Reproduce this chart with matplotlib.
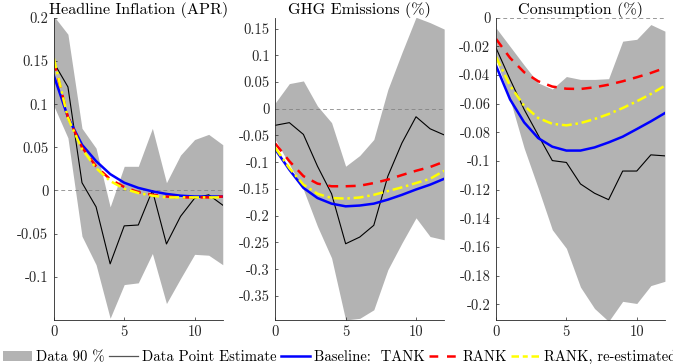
import matplotlib
matplotlib.use("Agg")
import matplotlib.pyplot as plt
from matplotlib.patches import Patch
from matplotlib.lines import Line2D
import numpy as np

plt.rcParams['font.family'] = ['cmr10', 'DejaVu Serif']
plt.rcParams['mathtext.fontset'] = 'cm'
plt.rcParams['axes.unicode_minus'] = False

horizon = list(range(13))

titles = ["Headline Inflation (APR)", "GHG Emissions (%)", "Consumption (%)"]

# Panel 1: Headline inflation
infl_upper = [0.202, 0.181, 0.072, 0.049, -0.019, 0.028, 0.028, 0.072, 0.009, 0.041, 0.059, 0.065, 0.053]
infl_lower = [0.098, 0.061, -0.053, -0.086, -0.148, -0.109, -0.107, -0.073, -0.131, -0.102, -0.074, -0.075, -0.086]
infl_point = [0.148, 0.120, 0.009, -0.019, -0.085, -0.041, -0.040, 0.000, -0.062, -0.030, -0.009, -0.005, -0.017]
infl_tank = [0.133, 0.085, 0.053, 0.034, 0.019, 0.009, 0.003, -0.001, -0.004, -0.006, -0.007, -0.007, -0.007]
infl_rank = [0.150, 0.085, 0.050, 0.028, 0.013, 0.004, -0.002, -0.005, -0.007, -0.008, -0.008, -0.008, -0.007]
infl_rank_re = [0.153, 0.084, 0.048, 0.026, 0.011, 0.002, -0.003, -0.006, -0.008, -0.008, -0.008, -0.008, -0.008]

# Panel 2: GHG emissions
ghg_upper = [0.011, 0.047, 0.052, 0.005, -0.026, -0.1075, -0.0875, -0.0575, 0.036, 0.105, 0.171, 0.161, 0.149]
ghg_lower = [-0.0575, -0.104, -0.151, -0.220, -0.279, -0.395, -0.392, -0.376, -0.301, -0.251, -0.204, -0.239, -0.245]
ghg_point = [-0.031, -0.026, -0.048, -0.1075, -0.159, -0.2525, -0.240, -0.218, -0.126, -0.064, -0.015, -0.0375, -0.049]
ghg_tank = [-0.076, -0.114, -0.148, -0.167, -0.1775, -0.1825, -0.181, -0.1775, -0.170, -0.161, -0.151, -0.142, -0.131]
ghg_rank = [-0.065, -0.098, -0.126, -0.140, -0.145, -0.145, -0.144, -0.139, -0.1325, -0.124, -0.116, -0.109, -0.099]
ghg_rank_re = [-0.073, -0.111, -0.142, -0.159, -0.167, -0.168, -0.166, -0.161, -0.154, -0.147, -0.139, -0.131, -0.116]

# Panel 3: Consumption
cons_upper = [-0.007, -0.020, -0.033, -0.0455, -0.0497, -0.041, -0.043, -0.043, -0.0425, -0.0163, -0.015, -0.0047, -0.0093]
cons_lower = [-0.029, -0.057, -0.091, -0.119, -0.148, -0.161, -0.188, -0.203, -0.212, -0.198, -0.1995, -0.187, -0.184]
cons_point = [-0.021, -0.043, -0.064, -0.082, -0.0997, -0.101, -0.116, -0.1225, -0.127, -0.107, -0.107, -0.0957, -0.0964]
cons_tank = [-0.0334, -0.057, -0.073, -0.084, -0.090, -0.0927, -0.0927, -0.0905, -0.087, -0.083, -0.0777, -0.0723, -0.0665]
cons_rank = [-0.0147, -0.028, -0.038, -0.0443, -0.048, -0.0495, -0.0497, -0.0485, -0.0467, -0.0443, -0.0415, -0.0385, -0.035]
cons_rank_re = [-0.0273, -0.0474, -0.0614, -0.070, -0.074, -0.0751, -0.0735, -0.0707, -0.0672, -0.063, -0.0583, -0.0532, -0.0474]

yticks = [
    [-0.1, -0.05, 0, 0.05, 0.1, 0.15, 0.2],
    [-0.35, -0.3, -0.25, -0.2, -0.15, -0.1, -0.05, 0, 0.05, 0.1, 0.15],
    [-0.2, -0.18, -0.16, -0.14, -0.12, -0.1, -0.08, -0.06, -0.04, -0.02, 0],
]
ylims = [(-0.15, 0.2), (-0.395, 0.17), (-0.211, 0.0)]
xticks = [0, 5, 10]

legend_labels = ["Data 90 %", "Data Point Estimate", "Baseline:  TANK", "RANK", "RANK, re-estimated"]

panels = [
    (infl_upper, infl_lower, infl_point, infl_tank, infl_rank, infl_rank_re),
    (ghg_upper, ghg_lower, ghg_point, ghg_tank, ghg_rank, ghg_rank_re),
    (cons_upper, cons_lower, cons_point, cons_tank, cons_rank, cons_rank_re),
]

band_color = '#b3b3b3'
fig = plt.figure(figsize=(6.73, 3.64), dpi=100)
lefts = [0.080, 0.409, 0.737]
for i, (up, lo, pt, tank, rank, rankre) in enumerate(panels):
    ax = fig.add_axes([lefts[i], 0.121, 0.251, 0.830])
    ax.fill_between(horizon, lo, up, color=band_color, linewidth=0)
    ax.axhline(0, color='#808080', linestyle=(0, (4, 3)), linewidth=0.7, alpha=0.8)
    ax.plot(horizon, pt, color='black', linewidth=0.8)
    ax.plot(horizon, tank, color='#0000ff', linewidth=1.8)
    ax.plot(horizon, rank, color='#ff0000', linewidth=1.8, linestyle=(0, (4, 3)))
    ax.plot(horizon, rankre, color='#ffff00', linewidth=1.8, linestyle=(0, (4, 1.5, 1, 1.5)))
    ax.set_xlim(0, 12)
    ax.set_ylim(*ylims[i])
    ax.set_xticks(xticks)
    ax.set_xticklabels([str(t) for t in xticks])
    ax.set_yticks(yticks[i])
    ax.set_yticklabels([('%g' % t) for t in yticks[i]])
    ax.set_title(titles[i], fontsize=11.6, pad=3)
    ax.tick_params(labelsize=10.5, length=2, direction='in', width=0.5, colors='#262626', pad=4)
    for s in ['top', 'right']:
        ax.spines[s].set_visible(False)
    for s in ['left', 'bottom']:
        ax.spines[s].set_linewidth(0.6)
        ax.spines[s].set_color('#262626')

handles = [
    Patch(facecolor=band_color, edgecolor='none'),
    Line2D([], [], color='#555555', linewidth=0.9),
    Line2D([], [], color='#0000ff', linewidth=1.8),
    Line2D([], [], color='#ff0000', linewidth=1.8, linestyle=(0, (3.5, 3.5))),
    Line2D([], [], color='#ffff00', linewidth=1.8, linestyle=(0, (3, 1.5, 2, 1.5))),
]
fig.legend(handles, legend_labels, loc='center left', bbox_to_anchor=(0.004, 0.019),
           ncol=5, frameon=False, fontsize=10.6, handlelength=2.0, handletextpad=0.25,
           columnspacing=0.3, borderaxespad=0, borderpad=0)

fig.savefig("out.png", dpi=100)
